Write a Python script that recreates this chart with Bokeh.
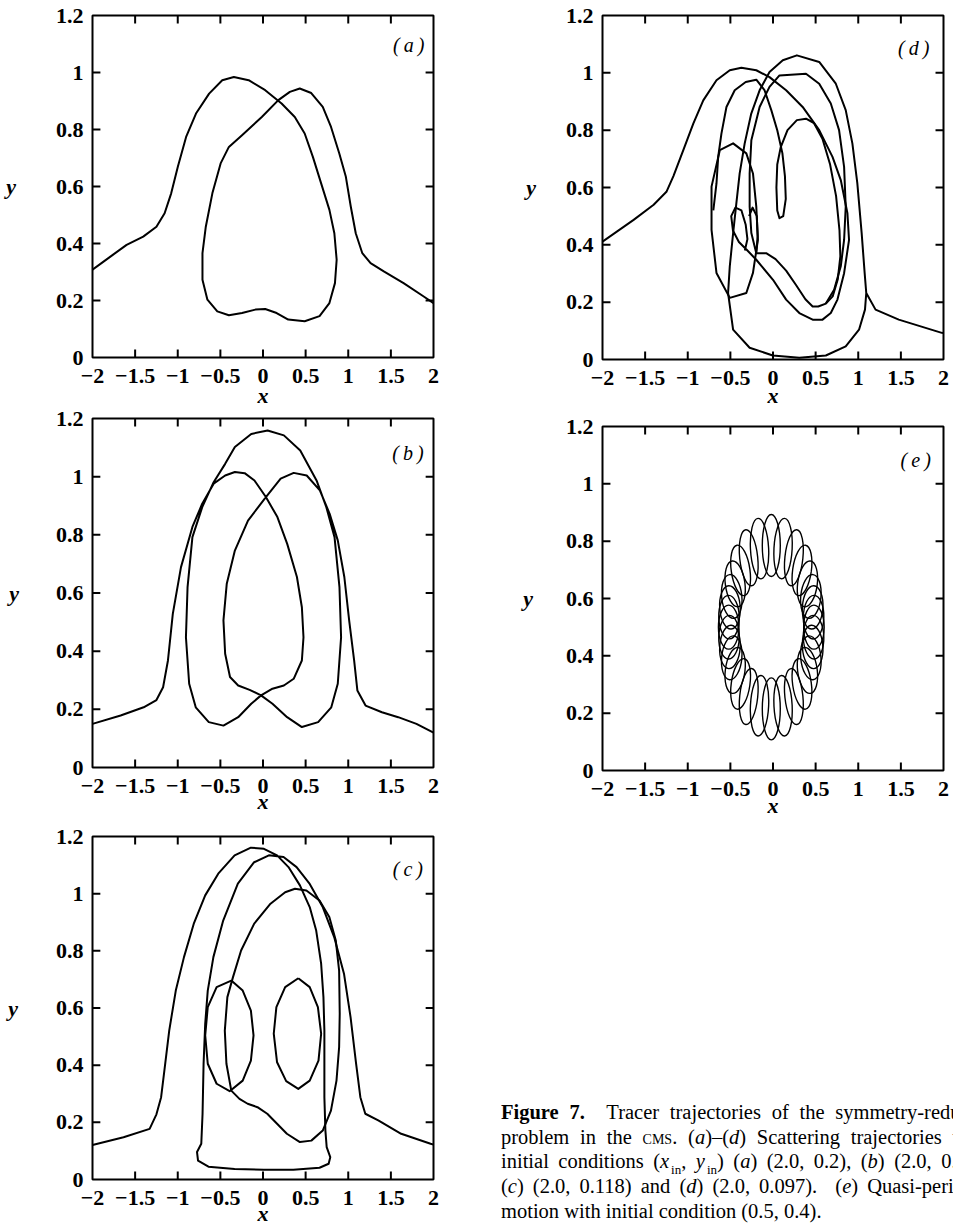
import math
from bokeh.plotting import figure
from bokeh.layouts import row, column
from bokeh.models import FixedTicker, Label, Div
from bokeh.embed import file_html
from bokeh.resources import INLINE

# ---------------- axis ticks ----------------
X_TICKS = [-2, -1.5, -1, -0.5, 0, 0.5, 1, 1.5, 2]
X_TICK_LABELS = ["\u22122", "\u22121.5", "\u22121", "\u22120.5", "0", "0.5", "1", "1.5", "2"]
Y_TICKS = [0, 0.2, 0.4, 0.6, 0.8, 1, 1.2]
Y_TICK_LABELS = ["0", "0.2", "0.4", "0.6", "0.8", "1", "1.2"]

# ---------------- (a) trajectory, x_in=2.0, y_in=0.2 ----------------
a_path = [(-2.0, 0.308), (-1.79, 0.354), (-1.6, 0.395), (-1.405, 0.424), (-1.25, 0.459), (-1.154, 0.506),
          (-1.077, 0.576), (-0.999, 0.669), (-0.902, 0.774), (-0.786, 0.856), (-0.632, 0.926), (-0.478, 0.973),
          (-0.342, 0.984), (-0.168, 0.973), (0.026, 0.938), (0.218, 0.891), (0.373, 0.844), (0.489, 0.786),
          (0.585, 0.704), (0.682, 0.611), (0.779, 0.518), (0.837, 0.436), (0.864, 0.343), (0.844, 0.261),
          (0.779, 0.191), (0.663, 0.145), (0.489, 0.127), (0.296, 0.133), (0.16, 0.156), (0.026, 0.17),
          (-0.09, 0.168), (-0.246, 0.156), (-0.40, 0.148), (-0.536, 0.162), (-0.652, 0.203), (-0.71, 0.273),
          (-0.71, 0.366), (-0.671, 0.459), (-0.594, 0.576), (-0.497, 0.681), (-0.40, 0.739), (-0.246, 0.78),
          (-0.014, 0.844), (0.18, 0.903), (0.315, 0.932), (0.431, 0.944), (0.566, 0.928), (0.701, 0.879),
          (0.798, 0.809), (0.895, 0.716), (0.972, 0.634), (1.03, 0.529), (1.088, 0.436), (1.165, 0.366),
          (1.262, 0.331), (1.417, 0.302), (1.649, 0.261), (1.881, 0.215), (2.0, 0.191)]

# ---------------- (b) trajectory ----------------
b_path = [(-2.0, 0.150), (-1.67, 0.179), (-1.40, 0.207), (-1.25, 0.232), (-1.172, 0.276), (-1.115, 0.368),
          (-1.058, 0.528), (-0.962, 0.689), (-0.828, 0.827), (-0.713, 0.907), (-0.579, 0.976), (-0.444, 1.004),
          (-0.33, 1.016), (-0.215, 1.012), (-0.10, 0.987), (0.034, 0.930), (0.169, 0.861), (0.284, 0.769),
          (0.398, 0.655), (0.456, 0.551), (0.475, 0.448), (0.456, 0.368), (0.36, 0.305), (0.245, 0.282),
          (0.111, 0.271), (-0.023, 0.248), (-0.138, 0.219), (-0.291, 0.173), (-0.464, 0.144), (-0.636, 0.156),
          (-0.789, 0.207), (-0.866, 0.288), (-0.904, 0.448), (-0.885, 0.620), (-0.828, 0.792), (-0.713, 0.895),
          (-0.579, 0.981), (-0.444, 1.044), (-0.33, 1.102), (-0.138, 1.147), (0.054, 1.159), (0.245, 1.142),
          (0.437, 1.090), (0.628, 0.987), (0.743, 0.895), (0.839, 0.792), (0.897, 0.620), (0.916, 0.448),
          (0.877, 0.288), (0.801, 0.207), (0.647, 0.156), (0.456, 0.139), (0.283, 0.173), (0.111, 0.219),
          (-0.023, 0.248), (-0.157, 0.267), (-0.291, 0.282), (-0.387, 0.311), (-0.444, 0.391), (-0.464, 0.506),
          (-0.425, 0.632), (-0.33, 0.746), (-0.176, 0.849), (0.034, 0.930), (0.207, 0.993), (0.36, 1.013),
          (0.513, 1.004), (0.667, 0.953), (0.782, 0.872), (0.877, 0.781), (0.954, 0.655), (1.011, 0.505),
          (1.069, 0.368), (1.107, 0.265), (1.203, 0.213), (1.395, 0.190), (1.586, 0.173), (1.80, 0.15),
          (2.0, 0.12)]

# ---------------- (c) trajectory pieces ----------------
c_main = [(-2.0, 0.121), (-1.636, 0.148), (-1.33, 0.177), (-1.25, 0.228), (-1.195, 0.288), (-1.157, 0.381),
          (-1.1, 0.521), (-1.023, 0.661), (-0.927, 0.778), (-0.812, 0.895), (-0.678, 0.994), (-0.525, 1.07),
          (-0.333, 1.134), (-0.142, 1.161), (0.011, 1.157), (0.165, 1.134), (0.299, 1.093), (0.433, 1.029),
          (0.548, 0.953), (0.624, 0.871), (0.682, 0.755), (0.709, 0.638), (0.72, 0.521), (0.72, 0.405),
          (0.72, 0.288), (0.732, 0.171), (0.747, 0.113), (0.789, 0.078), (0.77, 0.055), (0.663, 0.041),
          (0.356, 0.034), (0.011, 0.034), (-0.333, 0.037), (-0.64, 0.045), (-0.762, 0.066), (-0.774, 0.096),
          (-0.724, 0.125), (-0.709, 0.23), (-0.697, 0.405), (-0.678, 0.545), (-0.648, 0.661), (-0.582, 0.778),
          (-0.467, 0.906), (-0.295, 1.035), (-0.104, 1.110), (0.069, 1.134), (0.241, 1.128), (0.394, 1.093),
          (0.548, 1.034), (0.701, 0.953), (0.835, 0.848), (0.95, 0.72), (1.027, 0.568), (1.092, 0.405),
          (1.142, 0.288), (1.2, 0.23), (1.352, 0.207), (1.621, 0.16), (1.966, 0.125), (2.0, 0.122)]
c_arch = [(-0.372, 0.311), (-0.429, 0.405), (-0.448, 0.521), (-0.418, 0.638), (-0.352, 0.708), (-0.257, 0.801),
          (-0.103, 0.895), (0.088, 0.965), (0.26, 1.005), (0.375, 1.017), (0.509, 1.011), (0.663, 0.976),
          (0.778, 0.918), (0.854, 0.836), (0.893, 0.731), (0.9, 0.58), (0.893, 0.463), (0.862, 0.346),
          (0.797, 0.241), (0.701, 0.171), (0.567, 0.136), (0.433, 0.131), (0.28, 0.16), (0.165, 0.195),
          (0.05, 0.23), (-0.065, 0.253), (-0.18, 0.265), (-0.276, 0.282), (-0.372, 0.311)]
c_left_loop = [(-0.372, 0.696), (-0.238, 0.661), (-0.142, 0.591), (-0.111, 0.504), (-0.142, 0.416),
               (-0.238, 0.346), (-0.391, 0.309), (-0.544, 0.335), (-0.648, 0.405), (-0.678, 0.504),
               (-0.648, 0.603), (-0.544, 0.673), (-0.372, 0.696)]
c_right_loop = [(0.414, 0.704), (0.548, 0.673), (0.644, 0.603), (0.682, 0.51), (0.651, 0.416), (0.548, 0.346),
                (0.414, 0.317), (0.272, 0.344), (0.165, 0.41), (0.126, 0.51), (0.157, 0.603), (0.26, 0.673),
                (0.414, 0.704)]

# ---------------- (d) trajectory pieces ----------------
d_entry = [(-2.0, 0.411), (-1.635, 0.487), (-1.40, 0.54), (-1.25, 0.585), (-1.168, 0.64), (-1.051, 0.731),
           (-0.935, 0.823), (-0.818, 0.904), (-0.663, 0.974), (-0.507, 1.009), (-0.371, 1.018), (-0.196, 1.009),
           (-0.041, 0.985), (0.154, 0.939), (0.348, 0.881), (0.542, 0.80), (0.698, 0.707), (0.795, 0.626),
           (0.873, 0.51), (0.892, 0.417), (0.834, 0.301), (0.756, 0.209), (0.678, 0.162), (0.581, 0.139),
           (0.465, 0.139), (0.309, 0.162), (0.154, 0.209), (0.0, 0.278), (-0.196, 0.348), (-0.30, 0.38),
           (-0.40, 0.41), (-0.47, 0.45), (-0.49, 0.50), (-0.44, 0.53), (-0.37, 0.52), (-0.32, 0.47),
           (-0.30, 0.42), (-0.33, 0.38)]
d_arch = [(-0.28, 0.50), (-0.24, 0.53), (-0.19, 0.50), (-0.18, 0.43), (-0.196, 0.371), (-0.254, 0.441),
          (-0.274, 0.533), (-0.274, 0.649), (-0.254, 0.765), (-0.157, 0.881), (-0.041, 0.951), (0.076, 0.991),
          (0.387, 0.997), (0.542, 0.962), (0.678, 0.893), (0.775, 0.80), (0.834, 0.672), (0.853, 0.533),
          (0.834, 0.417), (0.795, 0.325), (0.717, 0.243), (0.62, 0.195), (0.53, 0.185), (0.465, 0.185),
          (0.38, 0.21), (0.27, 0.26), (0.154, 0.31), (0.03, 0.35), (-0.08, 0.371), (-0.196, 0.371)]
d_poly = [(-0.177, 0.417), (-0.196, 0.533), (-0.235, 0.649), (-0.313, 0.719), (-0.468, 0.754), (-0.624, 0.730),
          (-0.721, 0.603), (-0.721, 0.452), (-0.663, 0.302), (-0.507, 0.215), (-0.313, 0.232), (-0.235, 0.302),
          (-0.177, 0.417)]
d_hook = [(-0.70, 0.52), (-0.663, 0.614), (-0.643, 0.707), (-0.605, 0.788), (-0.546, 0.881), (-0.449, 0.939),
          (-0.32, 0.968), (-0.196, 0.976), (-0.10, 0.94), (-0.02, 0.87), (0.05, 0.80), (0.11, 0.72),
          (0.14, 0.64), (0.15, 0.56), (0.12, 0.50), (0.076, 0.493), (0.05, 0.52), (0.04, 0.60), (0.05, 0.68),
          (0.09, 0.74), (0.17, 0.80), (0.28, 0.835), (0.387, 0.84), (0.48, 0.825), (0.58, 0.77), (0.67, 0.68),
          (0.74, 0.57), (0.78, 0.45), (0.79, 0.36), (0.76, 0.28), (0.70, 0.22), (0.62, 0.195)]
d_outer = [(1.094, 0.232), (1.075, 0.302), (1.04, 0.441), (0.989, 0.615), (0.931, 0.754), (0.853, 0.870),
           (0.737, 0.962), (0.542, 1.038), (0.28, 1.061), (0.115, 1.044), (-0.041, 1.003), (-0.157, 0.939),
           (-0.255, 0.858), (-0.332, 0.754), (-0.391, 0.649), (-0.43, 0.545), (-0.468, 0.44), (-0.507, 0.325),
           (-0.527, 0.232), (-0.468, 0.104), (-0.274, 0.041), (-0.002, 0.014), (0.309, 0.006), (0.62, 0.014),
           (0.853, 0.046), (1.009, 0.104), (1.079, 0.174), (1.094, 0.232), (1.203, 0.174), (1.475, 0.139),
           (1.98, 0.093), (2.0, 0.092)]

# ---------------- (e) quasi-periodic rosette: loops read around the ring ----------------
# loop centres (data units); loop width / height on screen (px) and tilt (deg)
e_x = [0.48, 0.476, 0.465, 0.444, 0.404, 0.34, 0.245, 0.118, -0.02, -0.158, -0.285, -0.38, -0.444, -0.484,
       -0.505, -0.516, -0.52, -0.516, -0.505, -0.484, -0.444, -0.38, -0.285, -0.158, -0.02, 0.118, 0.245,
       0.34, 0.404, 0.444, 0.465, 0.476]
e_y = [0.5, 0.535, 0.569, 0.607, 0.651, 0.698, 0.742, 0.774, 0.785, 0.774, 0.742, 0.698, 0.651, 0.607,
       0.569, 0.535, 0.5, 0.465, 0.431, 0.393, 0.349, 0.302, 0.258, 0.226, 0.215, 0.226, 0.258, 0.302,
       0.349, 0.393, 0.431, 0.465]
e_w = [20.5, 20.5, 20.5, 20.2, 19.6, 18.7, 18, 18.2, 18, 18.2, 18, 18.7, 19.6, 20.2, 20.5, 20.5,
       20.5, 20.5, 20.5, 20.2, 19.6, 18.7, 18, 18.2, 18, 18.2, 18, 18.7, 19.6, 20.2, 20.5, 20.5]
e_h = [44, 43.6, 43.4, 44, 46.2, 51, 56.3, 60.6, 62, 60.6, 56.3, 51, 46.2, 44, 43.4, 43.6,
       44, 43.6, 43.4, 44, 46.2, 51, 56.3, 60.6, 62, 60.6, 56.3, 51, 46.2, 44, 43.4, 43.6]
e_tilt = [0, -1.3, -3.4, -5.6, -7.4, -8, -6, -2.9, 0, 2.9, 6, 8, 7.4, 5.6, 3.4, 1.3,
          0, -1.3, -3.4, -5.6, -7.4, -8, -6, -2.9, 0, 2.9, 6, 8, 7.4, 5.6, 3.4, 1.3]

FONT = "Liberation Serif"
TICK_PX = 8


def xs(path):
    return [pt[0] for pt in path]


def ys(path):
    return [pt[1] for pt in path]


def panel(width, height, left, right, top, bottom, letter, lx, ly, ylab_standoff, xlab_standoff):
    p = figure(width=width, height=height, x_range=(-2, 2), y_range=(0, 1.2),
               output_backend="svg", toolbar_location=None, tools="",
               min_border_left=left, min_border_right=right,
               min_border_top=top, min_border_bottom=bottom)
    p.xgrid.visible = False
    p.ygrid.visible = False
    p.background_fill_color = "white"
    p.border_fill_color = "white"
    p.outline_line_color = "black"
    p.outline_line_width = 2
    p.outline_line_alpha = 1.0
    for ax, ticks, labels in ((p.xaxis[0], X_TICKS, X_TICK_LABELS), (p.yaxis[0], Y_TICKS, Y_TICK_LABELS)):
        ax.ticker = FixedTicker(ticks=ticks)
        ax.major_label_overrides = {t: l for t, l in zip(ticks, labels)}
        ax.minor_tick_line_color = None
        ax.major_tick_in = 0
        ax.major_tick_out = 0
        ax.major_tick_line_color = None
        ax.axis_line_color = None
        ax.major_label_text_font = FONT
        ax.major_label_text_font_style = "bold"
        ax.major_label_text_font_size = "22px"
        ax.major_label_text_color = "black"
        ax.axis_label_text_font = FONT
        ax.axis_label_text_font_style = "bold italic"
        ax.axis_label_text_font_size = "22px"
        ax.axis_label_text_color = "black"
    xa = p.xaxis[0]
    xa.major_label_standoff = 11
    xa.axis_label = "x"
    xa.axis_label_standoff = xlab_standoff
    ya = p.yaxis[0]
    ya.major_label_standoff = 9
    ya.axis_label = "y"
    ya.axis_label_standoff = ylab_standoff
    try:
        ya.axis_label_orientation = "horizontal"
    except Exception:
        pass

    # inward tick marks on all four sides of the frame
    fw = width - left - right
    fh = height - top - bottom
    dx = TICK_PX * (p.x_range.end - p.x_range.start) / fw
    dy = TICK_PX * (p.y_range.end - p.y_range.start) / fh
    xt = X_TICKS[1:-1]
    yt = Y_TICKS[1:-1]
    y0, y1 = p.y_range.start, p.y_range.end
    x0, x1 = p.x_range.start, p.x_range.end
    p.segment(x0=xt, y0=[y0] * len(xt), x1=xt, y1=[y0 + dy] * len(xt), line_color="black", line_width=2)
    p.segment(x0=xt, y0=[y1] * len(xt), x1=xt, y1=[y1 - dy] * len(xt), line_color="black", line_width=2)
    p.segment(x0=[x0] * len(yt), y0=yt, x1=[x0 + dx] * len(yt), y1=yt, line_color="black", line_width=2)
    p.segment(x0=[x1] * len(yt), y0=yt, x1=[x1 - dx] * len(yt), y1=yt, line_color="black", line_width=2)

    p.add_layout(Label(x=lx, y=ly, text="(\u2009" + letter + "\u2009)", text_font=FONT,
                       text_font_style="italic", text_font_size="20px", text_color="black",
                       text_align="center", text_baseline="middle"))
    return p


def trace(p, path, lw=2.0):
    p.line(xs(path), ys(path), line_color="black", line_width=lw, line_join="round")


pa = panel(496, 410, 92, 59, 15, 52, "a", 1.71, 1.095, 37, -3)
trace(pa, a_path)

pb = panel(496, 410, 88, 60, 8, 53, "b", 1.70, 1.08, 34, -7)
trace(pb, b_path)

pc = panel(496, 408, 85, 63, 16, 49, "c", 1.70, 1.085, 35, -7)
for seg in (c_main, c_arch, c_left_loop, c_right_loop):
    trace(pc, seg)

pd = panel(457, 410, 106, 9, 15, 50, "d", 1.65, 1.085, 27, -5)
for seg in (d_entry, d_arch, d_poly, d_hook, d_outer):
    trace(pd, seg)

pe = panel(457, 410, 103, 10, 16, 49, "e", 1.674, 1.082, 30, -6)
pe.ellipse(x=e_x, y=e_y, width=e_w, height=e_h, angle=e_tilt, width_units="screen",
           height_units="screen", angle_units="deg", fill_color=None, line_color="black", line_width=1.4)

JUST = "width:488px;white-space:nowrap;text-align:justify;text-align-last:justify;"
SUB = '<sub style="font-size:13px;line-height:0;margin-left:2px">in</sub>'
caption_html = (
    '<div style="font-family:\'Liberation Serif\',serif;font-size:20.5px;line-height:24.7px;'
    'color:#000;padding-top:275px;white-space:nowrap;">'
    '<div style="' + JUST + '"><b>Figure 7.</b>&nbsp;&nbsp;Tracer trajectories of the symmetry-reduced</div>'
    '<div style="' + JUST + '">problem in the <span style="font-variant:small-caps">cms</span>. '
    '(<i>a</i>)\u2013(<i>d</i>) Scattering trajectories with</div>'
    '<div style="' + JUST + '">initial conditions (<i>x</i>' + SUB + ', <i>y</i>' + SUB + ') '
    '(<i>a</i>) (2.0, 0.2), (<i>b</i>) (2.0, 0.12),</div>'
    '<div style="' + JUST + '">(<i>c</i>) (2.0, 0.118) and (<i>d</i>) (2.0, 0.097).&nbsp;&nbsp;'
    '(<i>e</i>) Quasi-periodic</div>'
    '<div>motion with initial condition (0.5, 0.4).</div>'
    '</div>'
)
caption = Div(text=caption_html, width=457, height=408, styles={"overflow": "hidden"})

layout = row(column(pa, pb, pc, spacing=0), column(pd, pe, caption, spacing=0), spacing=0)

with open("out.html", "w") as f:
    f.write(file_html(layout, INLINE))
